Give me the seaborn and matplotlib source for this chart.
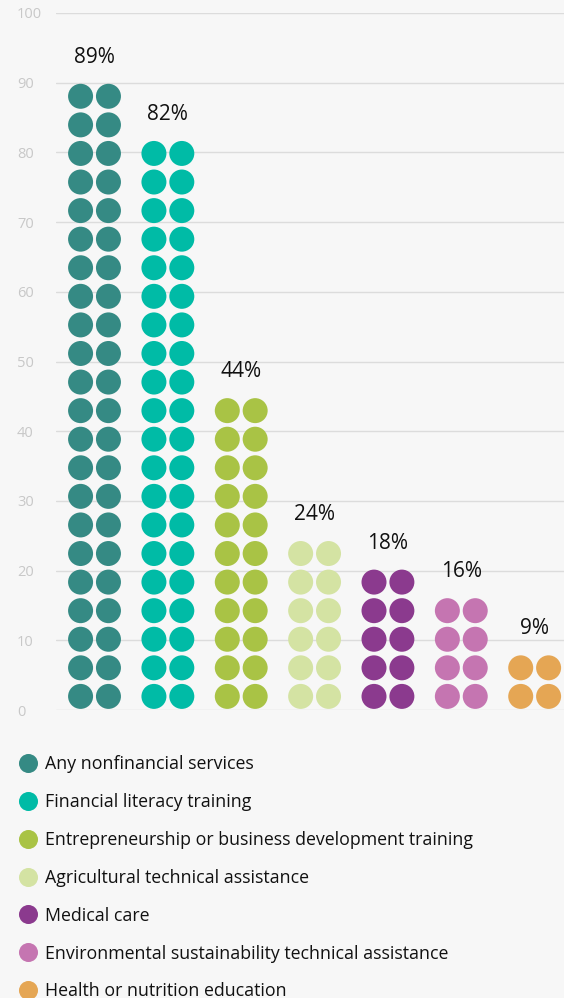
import numpy as np
import pandas as pd
import matplotlib
matplotlib.use("Agg")
import matplotlib.pyplot as plt
from matplotlib.lines import Line2D
import seaborn as sns

categories = [
    "Any nonfinancial services",
    "Financial literacy training",
    "Entrepreneurship or business development training",
    "Agricultural technical assistance",
    "Medical care",
    "Environmental sustainability technical assistance",
    "Health or nutrition education",
]
values = [89, 82, 44, 24, 18, 16, 9]
dot_rows = [22, 20, 11, 6, 5, 4, 2]   # rows of two dots
colors = ["#358a84", "#00bba6", "#a9c345", "#d4e3a3", "#8b3a8e", "#c575b1", "#e5a654"]
yticks = list(range(0, 101, 10))

BG = "#f7f7f7"
ROW_STEP = 4.1
ROW_BASE = 1.95

sns.set_theme(style="white")
plt.rcParams["font.family"] = ["Open Sans", "DejaVu Sans"]

recs = []
for i, (cat, n) in enumerate(zip(categories, dot_rows)):
    for r in range(n):
        for side in (-0.19, 0.19):
            recs.append({"cat": cat, "x": i + side, "y": ROW_BASE + ROW_STEP * r})
df = pd.DataFrame(recs)

fig = plt.figure(figsize=(5.64, 9.98), dpi=100, facecolor=BG)
ax = fig.add_axes([56 / 564, 1 - 710 / 998, 1 - 56 / 564, (710 - 13) / 998])
ax.set_facecolor(BG)

sns.scatterplot(data=df, x="x", y="y", hue="cat", hue_order=categories,
                palette=colors, s=324, linewidth=0, legend=False, ax=ax, zorder=3)

for i, (v, n) in enumerate(zip(values, dot_rows)):
    ax.text(i, ROW_BASE + ROW_STEP * (n - 1) + 4.8, f"{v}%", ha="center", va="baseline",
            fontsize=15, color="#111111", zorder=4)

ax.set_xlim(-0.525, 6.40)
ax.set_ylim(0, 100)
ax.set_yticks(yticks)
ax.set_xticks([])
ax.set_xlabel("")
ax.set_ylabel("")
ax.grid(axis="y", color="#dcdcdc", linewidth=1, zorder=0)
ax.set_axisbelow(True)
for s in ax.spines.values():
    s.set_visible(False)
ax.tick_params(axis="y", length=0, pad=28, labelsize=10.5, labelcolor="#c8c8c8")
for lab in ax.get_yticklabels():
    lab.set_horizontalalignment("left")

handles = [Line2D([0], [0], marker="o", linestyle="", markersize=13.7,
                  markerfacecolor=c, markeredgewidth=0) for c in colors]
fig.legend(handles, categories, loc="upper left",
           bbox_to_anchor=(17 / 564, 1 - 755 / 998), frameon=False,
           fontsize=12.8, labelspacing=1.12, handletextpad=0.35,
           handlelength=1.2, borderaxespad=0, borderpad=0, labelcolor="#111111")

fig.savefig("out.png", dpi=100, facecolor=BG)
